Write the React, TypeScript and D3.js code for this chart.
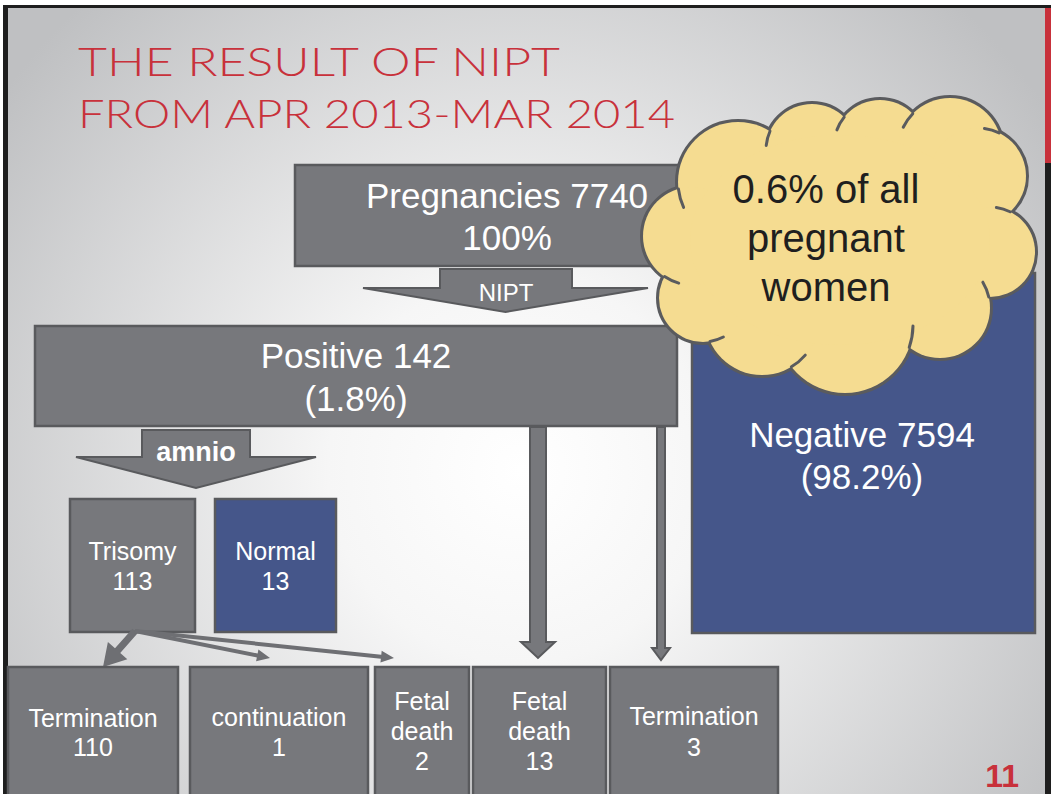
import React from "react";
import * as d3 from "d3";

// ---------- data ----------
const titleLines = ["THE RESULT OF NIPT", "FROM APR 2013-MAR 2014"];
const totalLabel = ["Pregnancies 7740", "100%"];
const screenLabel = "NIPT";
const positiveLabel = ["Positive 142", "(1.8%)"];
const negativeLabel = ["Negative 7594", "(98.2%)"];
const diagLabel = "amnio";
const cloudLabel = ["0.6% of all", "pregnant", "women"];
const midNodes = [
  { key: "tri", lines: ["Trisomy", "113"], blue: false },
  { key: "norm", lines: ["Normal", "13"], blue: true },
];
const outcomeNodes = [
  { key: "t110", lines: ["Termination", "110"] },
  { key: "c1", lines: ["continuation", "1"] },
  { key: "fd2", lines: ["Fetal", "death", "2"] },
  { key: "fd13", lines: ["Fetal", "death", "13"] },
  { key: "t3", lines: ["Termination", "3"] },
];
const pageNumber = "11";

// ---------- layout ----------
const W = 1051;
const H = 794;
const GRAY = "#77787c";
const EDGE = "#595a5d";
const BLUE = "#45568a";
const RED = "#c8313b";
const FONT = "'Liberation Sans', Arial, Helvetica, sans-serif";

const midLayout: Record<string, { x0: number; x1: number }> = {
  tri: { x0: 70, x1: 195 },
  norm: { x0: 215, x1: 336 },
};
const outLayout: Record<string, { x0: number; x1: number; y: number[] }> = {
  t110: { x0: 8, x1: 178, y: [727, 756] },
  c1: { x0: 190, x1: 368, y: [726, 756] },
  fd2: { x0: 375, x1: 469, y: [710, 740, 770] },
  fd13: { x0: 473, x1: 606, y: [710, 740, 770] },
  t3: { x0: 610, x1: 778, y: [725, 756] },
};

const cloudCircles: [number, number, number][] = [
  [738, 182, 60],
  [812, 150, 46],
  [880, 146, 46],
  [950, 150, 52],
  [978, 176, 48],
  [990, 252, 45],
  [940, 308, 50],
  [845, 325, 68],
  [762, 318, 57],
  [703, 298, 44],
  [692, 236, 49],
];
const CLOUD_C = [840, 240];

function arrowPath(x0: number, y0: number, x1: number, y1: number, w: number, hl: number, hw: number) {
  const dx = x1 - x0, dy = y1 - y0;
  const L = Math.hypot(dx, dy);
  const ux = dx / L, uy = dy / L;
  const px = -uy, py = ux;
  const bx = x1 - ux * hl, by = y1 - uy * hl;
  const p = d3.path();
  p.moveTo(x0 + px * w / 2, y0 + py * w / 2);
  p.lineTo(bx + px * w / 2, by + py * w / 2);
  p.lineTo(bx + px * hw / 2, by + py * hw / 2);
  p.lineTo(x1, y1);
  p.lineTo(bx - px * hw / 2, by - py * hw / 2);
  p.lineTo(bx - px * w / 2, by - py * w / 2);
  p.lineTo(x0 - px * w / 2, y0 - py * w / 2);
  p.closePath();
  return p.toString();
}

function blockArrow(sx0: number, sx1: number, top: number, wingY: number, wx0: number, wx1: number, tipY: number) {
  const p = d3.path();
  const tipX = (wx0 + wx1) / 2;
  p.moveTo(sx0, top);
  p.lineTo(sx1, top);
  p.lineTo(sx1, wingY);
  p.lineTo(wx1, wingY);
  p.lineTo(tipX, tipY);
  p.lineTo(wx0, wingY);
  p.lineTo(sx0, wingY);
  p.closePath();
  return p.toString();
}

// short inner arcs at each junction of neighbouring cloud bumps
function cloudInnerArcs() {
  const out: string[] = [];
  const n = cloudCircles.length;
  for (let i = 0; i < n; i++) {
    const [x1, y1, r1] = cloudCircles[i];
    const [x2, y2, r2] = cloudCircles[(i + 1) % n];
    const d = Math.hypot(x2 - x1, y2 - y1);
    const a = (r1 * r1 - r2 * r2 + d * d) / (2 * d);
    const h = Math.sqrt(Math.max(0, r1 * r1 - a * a));
    const mx = x1 + (a * (x2 - x1)) / d, my = y1 + (a * (y2 - y1)) / d;
    const ox = (-(y2 - y1) * h) / d, oy = ((x2 - x1) * h) / d;
    const P1 = [mx + ox, my + oy], P2 = [mx - ox, my - oy];
    const far = Math.hypot(P1[0] - CLOUD_C[0], P1[1] - CLOUD_C[1]) > Math.hypot(P2[0] - CLOUD_C[0], P2[1] - CLOUD_C[1]) ? P1 : P2;
    const th = Math.atan2(far[1] - y2, far[0] - x2);
    const delta = 0.32;
    let s = 1;
    const tx = x2 + r2 * Math.cos(th + delta), ty = y2 + r2 * Math.sin(th + delta);
    if (Math.hypot(tx - x1, ty - y1) > r1) s = -1;
    const p = d3.path();
    p.arc(x2, y2, r2, th, th + s * delta, s < 0);
    out.push(p.toString());
  }
  return out;
}

function Lines({ lines, cx, ys, size, fill = "#fff", weight = 400 }: any) {
  return (
    <g>
      {lines.map((t: string, i: number) => (
        <text key={i} x={cx} y={ys[i]} textAnchor="middle" fontFamily={FONT} fontSize={size} fill={fill} fontWeight={weight}>
          {t}
        </text>
      ))}
    </g>
  );
}

export default function App() {
  const boxStroke = { stroke: EDGE, strokeWidth: 2.5 };
  const innerArcs = cloudInnerArcs();
  return (
    <svg width={W} height={H} style={{ position: "absolute", left: 0, top: 0 }} xmlns="http://www.w3.org/2000/svg">
      <defs>
        <radialGradient id="bg" gradientUnits="userSpaceOnUse" cx={520} cy={470} r={640}>
          <stop offset="0" stopColor="#ffffff" />
          <stop offset="0.3" stopColor="#f6f6f6" />
          <stop offset="1" stopColor="#bfc0c2" />
        </radialGradient>
      </defs>
      <rect x={0} y={0} width={W} height={H} fill="#fff" />
      <rect x={3} y={5} width={W - 3} height={H - 5} fill="#1e1e1e" />
      <rect x={8} y={8} width={1037} height={H - 8} fill="url(#bg)" />
      <rect x={1045} y={8} width={6} height={155} fill={RED} />

      {/* title */}
      {titleLines.map((t, i) => (
        <text key={i} x={78} y={76 + i * 52} fontFamily="Lato, 'Open Sans', sans-serif" fontWeight={300} fontSize={40} fill={RED}
          textLength={i === 0 ? 482 : 597} lengthAdjust="spacingAndGlyphs">
          {t}
        </text>
      ))}

      {/* pregnancies box */}
      <rect x={295} y={165} width={423} height={101} fill={GRAY} {...boxStroke} />
      <Lines lines={totalLabel} cx={507} ys={[208, 250]} size={35} />

      {/* NIPT arrow */}
      <path d={blockArrow(440, 572, 269, 288, 363, 648, 312)} fill={GRAY} stroke={EDGE} strokeWidth={2} />
      <text x={506} y={301} textAnchor="middle" fontFamily={FONT} fontSize={24} fill="#fff">{screenLabel}</text>

      {/* negative */}
      <rect x={692} y={273} width={343} height={360} fill={BLUE} {...boxStroke} />
      <Lines lines={negativeLabel} cx={862} ys={[447, 489]} size={35} />

      {/* positive */}
      <rect x={35} y={326} width={642} height={100} fill={GRAY} {...boxStroke} />
      <Lines lines={positiveLabel} cx={356} ys={[368, 411]} size={35} />

      {/* long arrows */}
      <path d={blockArrow(530, 546, 427, 642, 521, 555, 658)} fill={GRAY} stroke={EDGE} strokeWidth={2} />
      <path d={blockArrow(657, 665, 427, 648, 652, 670, 660)} fill={GRAY} stroke={EDGE} strokeWidth={2} />

      {/* amnio */}
      <path d={blockArrow(142, 250, 430, 457, 76, 316, 488)} fill={GRAY} stroke={EDGE} strokeWidth={2} />
      <text x={196} y={461} textAnchor="middle" fontFamily={FONT} fontSize={27} fontWeight={700} fill="#fff">{diagLabel}</text>

      {/* trisomy / normal */}
      {midNodes.map((n) => {
        const l = midLayout[n.key];
        return (
          <g key={n.key}>
            <rect x={l.x0} y={499} width={l.x1 - l.x0} height={133} fill={n.blue ? BLUE : GRAY} {...boxStroke} />
            <Lines lines={n.lines} cx={(l.x0 + l.x1) / 2} ys={[560, 590]} size={25} />
          </g>
        );
      })}

      {/* small arrows */}
      <path d={arrowPath(135, 631, 103, 667, 7, 22, 26)} fill="#6e6f73" />
      <path d={arrowPath(135, 631, 270, 658, 4, 13, 12)} fill="#6e6f73" />
      <path d={arrowPath(135, 631, 394, 658, 4, 13, 12)} fill="#6e6f73" />

      {/* outcomes */}
      {outcomeNodes.map((n) => {
        const l = outLayout[n.key];
        return (
          <g key={n.key}>
            <rect x={l.x0} y={667} width={l.x1 - l.x0} height={150} fill={GRAY} {...boxStroke} />
            <Lines lines={n.lines} cx={(l.x0 + l.x1) / 2} ys={l.y} size={25} />
          </g>
        );
      })}

      {/* cloud */}
      <g>
        {cloudCircles.map(([cx, cy, r], i) => (
          <circle key={"o" + i} cx={cx} cy={cy} r={r} fill="#5a5b5e" stroke="#5a5b5e" strokeWidth={6} />
        ))}
        <ellipse cx={840} cy={240} rx={150} ry={105} fill="#5a5b5e" />
        {cloudCircles.map(([cx, cy, r], i) => (
          <circle key={"f" + i} cx={cx} cy={cy} r={r} fill="#f5dc91" />
        ))}
        <ellipse cx={840} cy={240} rx={150} ry={105} fill="#f5dc91" />
        {innerArcs.map((d, i) => (
          <path key={"a" + i} d={d} fill="none" stroke="#5a5b5e" strokeWidth={3} strokeLinecap="round" />
        ))}
        <Lines lines={cloudLabel} cx={826} ys={[203, 252, 301]} size={40} fill="#1f1f1f" />
      </g>

      <text x={1019} y={787} textAnchor="end" fontFamily={FONT} fontSize={32} fontWeight={700} fill={RED}>{pageNumber}</text>
    </svg>
  );
}
